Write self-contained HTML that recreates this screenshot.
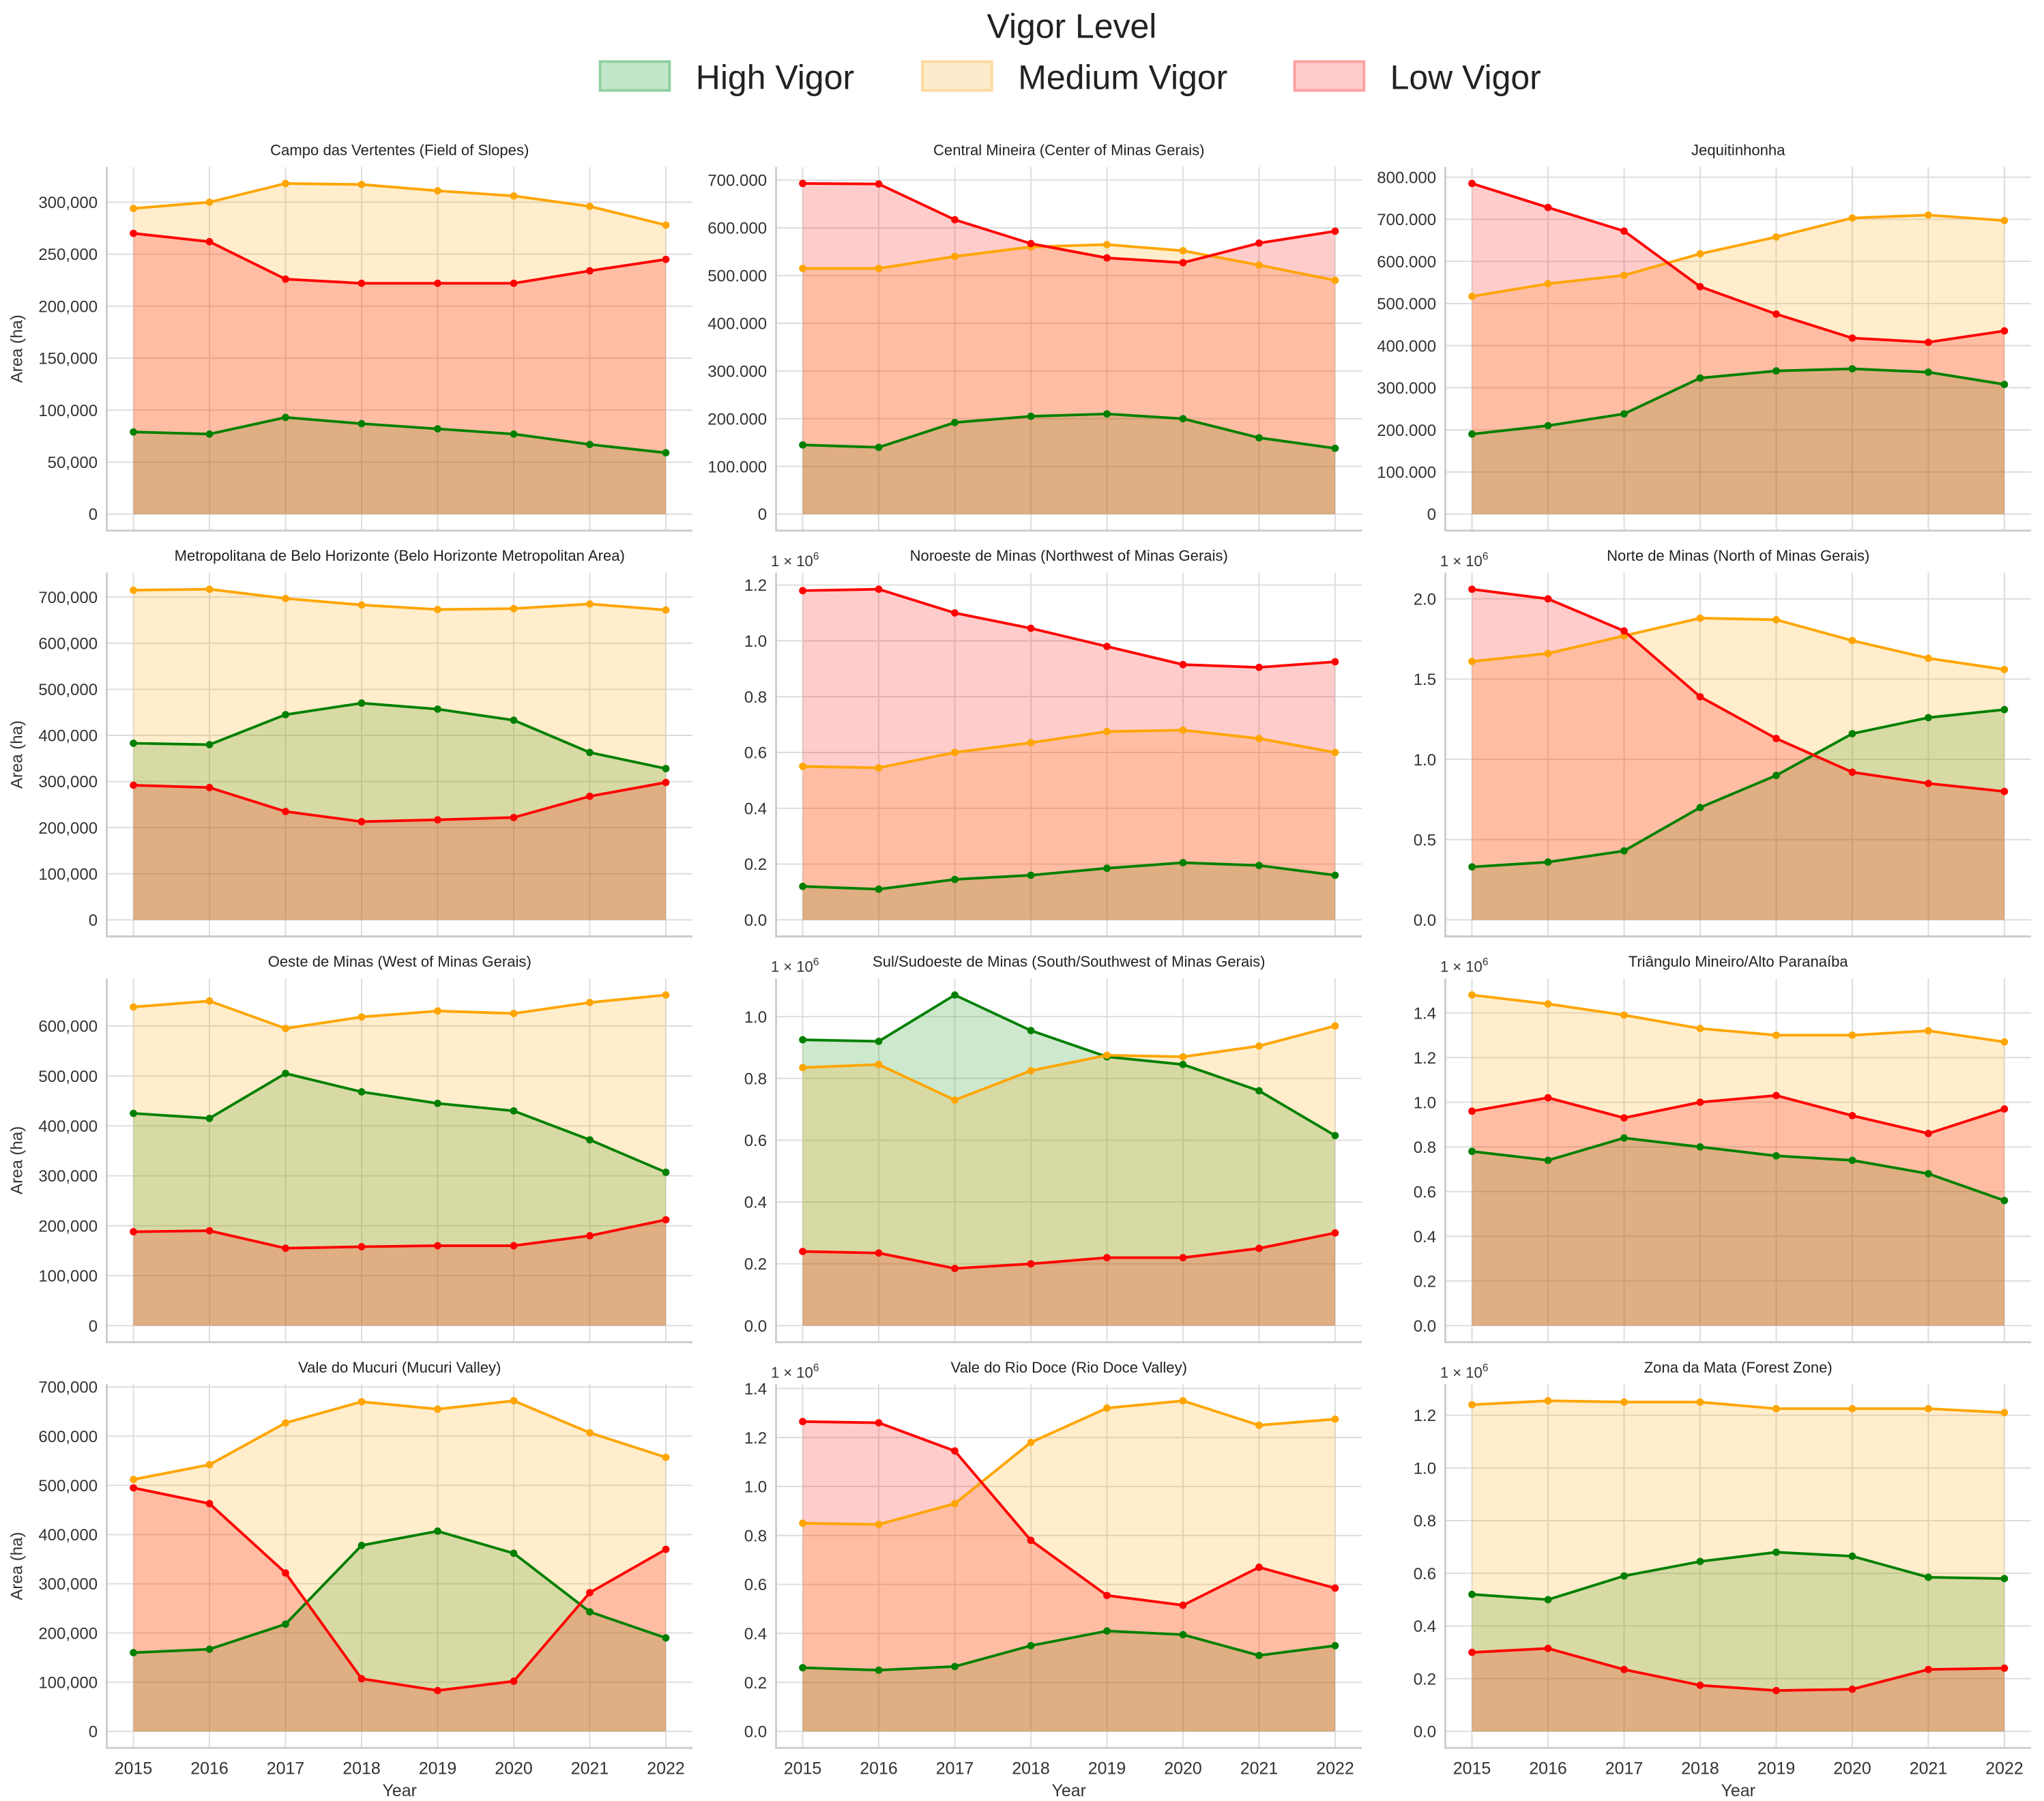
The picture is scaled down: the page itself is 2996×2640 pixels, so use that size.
<!DOCTYPE html>
<html><head><meta charset="utf-8">
<style>
html,body{margin:0;padding:0;background:#fff;}
svg{display:block;font-family:"Liberation Sans",Arial,sans-serif;}
</style></head>
<body>
<svg id="chart" width="2996" height="2640" viewBox="0 0 1560 1374.6" xmlns="http://www.w3.org/2000/svg">
<g>
<text x="818" y="29" font-size="26" text-anchor="middle" fill="#222">Vigor Level</text>
<rect x="458" y="47" width="53" height="22" fill="#c3e6cb" stroke="#8fd19e" stroke-width="2"/>
<text x="531" y="68" font-size="26" fill="#222">High Vigor</text>
<rect x="704" y="47" width="53" height="22" fill="#fdeccb" stroke="#fcd9a0" stroke-width="2"/>
<text x="777" y="68" font-size="26" fill="#222">Medium Vigor</text>
<rect x="988" y="47" width="53" height="22" fill="#ffcccc" stroke="#ffa0a0" stroke-width="2"/>
<text x="1061" y="68" font-size="26" fill="#222">Low Vigor</text>
</g>
</svg>
<script>
const years = [2015,2016,2017,2018,2019,2020,2021,2022];
const titles = ["Campo das Vertentes (Field of Slopes)","Central Mineira (Center of Minas Gerais)","Jequitinhonha",
"Metropolitana de Belo Horizonte (Belo Horizonte Metropolitan Area)","Noroeste de Minas (Northwest of Minas Gerais)","Norte de Minas (North of Minas Gerais)",
"Oeste de Minas (West of Minas Gerais)","Sul/Sudoeste de Minas (South/Southwest of Minas Gerais)","Triângulo Mineiro/Alto Paranaíba",
"Vale do Mucuri (Mucuri Valley)","Vale do Rio Doce (Rio Doce Valley)","Zona da Mata (Forest Zone)"];
const highVigor = [
[79e3,77e3,93e3,87e3,82e3,77e3,67e3,59e3],
[145e3,140e3,192e3,205e3,210e3,200e3,160e3,138e3],
[190e3,210e3,238e3,323e3,340e3,345e3,337e3,308e3],
[383e3,380e3,445e3,470e3,457e3,433e3,363e3,328e3],
[.12e6,.11e6,.145e6,.16e6,.185e6,.205e6,.195e6,.16e6],
[.33e6,.36e6,.43e6,.70e6,.90e6,1.16e6,1.26e6,1.31e6],
[425e3,415e3,505e3,468e3,445e3,430e3,372e3,307e3],
[.925e6,.92e6,1.07e6,.955e6,.87e6,.845e6,.76e6,.615e6],
[.78e6,.74e6,.84e6,.80e6,.76e6,.74e6,.68e6,.56e6],
[160e3,167e3,218e3,378e3,407e3,362e3,243e3,190e3],
[.26e6,.25e6,.265e6,.35e6,.41e6,.395e6,.31e6,.35e6],
[.52e6,.50e6,.59e6,.645e6,.68e6,.665e6,.585e6,.58e6]];
const mediumVigor = [
[294e3,300e3,318e3,317e3,311e3,306e3,296e3,278e3],
[515e3,515e3,540e3,560e3,565e3,552e3,522e3,490e3],
[517e3,547e3,567e3,618e3,658e3,703e3,710e3,697e3],
[715e3,717e3,697e3,683e3,673e3,675e3,685e3,672e3],
[.55e6,.545e6,.60e6,.635e6,.675e6,.68e6,.65e6,.60e6],
[1.61e6,1.66e6,1.77e6,1.88e6,1.87e6,1.74e6,1.63e6,1.56e6],
[638e3,650e3,595e3,618e3,630e3,625e3,647e3,662e3],
[.835e6,.845e6,.73e6,.825e6,.875e6,.87e6,.905e6,.97e6],
[1.48e6,1.44e6,1.39e6,1.33e6,1.30e6,1.30e6,1.32e6,1.27e6],
[512e3,542e3,627e3,670e3,655e3,672e3,607e3,557e3],
[.85e6,.845e6,.93e6,1.18e6,1.32e6,1.35e6,1.25e6,1.275e6],
[1.24e6,1.255e6,1.25e6,1.25e6,1.225e6,1.225e6,1.225e6,1.21e6]];
const lowVigor = [
[270e3,262e3,226e3,222e3,222e3,222e3,234e3,245e3],
[693e3,692e3,617e3,567e3,537e3,527e3,568e3,593e3],
[785e3,728e3,672e3,540e3,475e3,418e3,408e3,435e3],
[292e3,287e3,235e3,213e3,217e3,222e3,268e3,298e3],
[1.18e6,1.185e6,1.10e6,1.045e6,.98e6,.915e6,.905e6,.925e6],
[2.06e6,2.00e6,1.80e6,1.39e6,1.13e6,.92e6,.85e6,.80e6],
[188e3,190e3,155e3,158e3,160e3,160e3,180e3,212e3],
[.24e6,.235e6,.185e6,.20e6,.22e6,.22e6,.25e6,.30e6],
[.96e6,1.02e6,.93e6,1.00e6,1.03e6,.94e6,.86e6,.97e6],
[495e3,463e3,322e3,107e3,83e3,102e3,282e3,370e3],
[1.265e6,1.26e6,1.145e6,.78e6,.555e6,.515e6,.67e6,.585e6],
[.30e6,.315e6,.235e6,.175e6,.155e6,.16e6,.235e6,.24e6]];
const tickSteps = [50e3,100e3,100e3,100e3,.2e6,.5e6,100e3,.2e6,.2e6,100e3,.2e6,.2e6];
const tickStyle = ["comma","dot","dot","comma","sci","sci","comma","sci","sci","comma","sci","sci"];

const NS="http://www.w3.org/2000/svg";
const svg=document.getElementById('chart');
function mk(tag,attrs,parent){const e=document.createElementNS(NS,tag);for(const k in attrs)e.setAttribute(k,attrs[k]);parent.appendChild(e);return e;}
function fmt(v,style){
  if(style==="sci"){return (v/1e6).toFixed(1);}
  const s=Math.round(v).toString().replace(/\B(?=(\d{3})+(?!\d))/g, style==="comma"?",":".");
  return s;
}
const W=447, H=277.6;
for(let i=0;i<12;i++){
  const r=Math.floor(i/3), c=i%3;
  const left=81.5+c*510.8, top=127.4+r*309.7;
  const g=mk('g',{},svg);
  
  
  const maxV=Math.max(...highVigor[i],...mediumVigor[i],...lowVigor[i]);
  const y0=-0.05*maxV, y1=1.05*maxV;
  const ys=v=>top+H*(y1-v)/(y1-y0);
  const xs=k=>left+W*((years[k]-2015)+0.35)/7.7;
  for(let k=0;k<years.length;k++){
    const l=mk('line',{x1:xs(k),x2:xs(k),y1:top,y2:top+H,stroke:'#dcdcdc','stroke-width':1},g);
    
    
  }
  const step=tickSteps[i];
  for(let t=0;t<=y1+1e-6;t+=step){
    const y=ys(t);
    const l=mk('line',{x1:left,x2:left+W,y1:y,y2:y,stroke:'#dcdcdc','stroke-width':1},g);
    
    
    const tx=mk('text',{x:left-7,y:y+4.5,'font-size':12.5,'text-anchor':'end',fill:'#333'},g);
    
    
    tx.textContent=fmt(t,tickStyle[i]);
  }
  if(tickStyle[i]==="sci"){
    const o=mk('text',{x:left-4,y:top-5,'font-size':11.5,fill:'#333'},g);
    
    
    o.innerHTML='1 × 10<tspan dy="-5" font-size="8">6</tspan>';
  }
  const sp=mk('path',{d:`M${left},${top}V${top+H}H${left+W}`,fill:'none',stroke:'#cccccc','stroke-width':1.5},g);
  
  
  const series=[[highVigor[i],'#2ca02c',0.24,'#008000','high'],[mediumVigor[i],'#ffa500',0.2,'#ffa500','medium'],[lowVigor[i],'#ff0000',0.2,'#ff0000','low']];
  for(const [vals,fc,op,lc,nm] of series){
    let d=`M${xs(0)},${ys(0)}`;
    vals.forEach((v,k)=>{d+=`L${xs(k)},${ys(v)}`;});
    d+=`L${xs(vals.length-1)},${ys(0)}Z`;
    const a=mk('path',{d:d,fill:fc,'fill-opacity':op,stroke:'none'},g);
    
    
  }
  for(const [vals,fc,op,lc,nm] of series){
    const pts=vals.map((v,k)=>xs(k)+','+ys(v)).join(' ');
    const pl=mk('polyline',{points:pts,fill:'none',stroke:lc,'stroke-width':2},g);
    
    
    vals.forEach((v,k)=>{
      const cc=mk('circle',{cx:xs(k),cy:ys(v),r:2.8,fill:lc},g);
      
      
    });
  }
  const tt=mk('text',{x:left+W/2,y:top-9,'font-size':11.5,'text-anchor':'middle',fill:'#222'},g);
  
  
  tt.textContent=titles[i];
  if(c===0){
    const yl=mk('text',{x:0,y:0,'font-size':12.5,'text-anchor':'middle',fill:'#333',transform:`translate(17,${top+H/2}) rotate(-90)`},g);
    
    
    yl.textContent='Area (ha)';
  }
  if(r===3){
    years.forEach((yv,k)=>{
      const xt=mk('text',{x:xs(k),y:top+H+20,'font-size':13,'text-anchor':'middle',fill:'#333'},g);
      
      
      xt.textContent=yv;
    });
    const xl=mk('text',{x:left+W/2,y:top+H+37,'font-size':13,'text-anchor':'middle',fill:'#333'},g);
    
    
    xl.textContent='Year';
  }
}
</script>
</body></html>
